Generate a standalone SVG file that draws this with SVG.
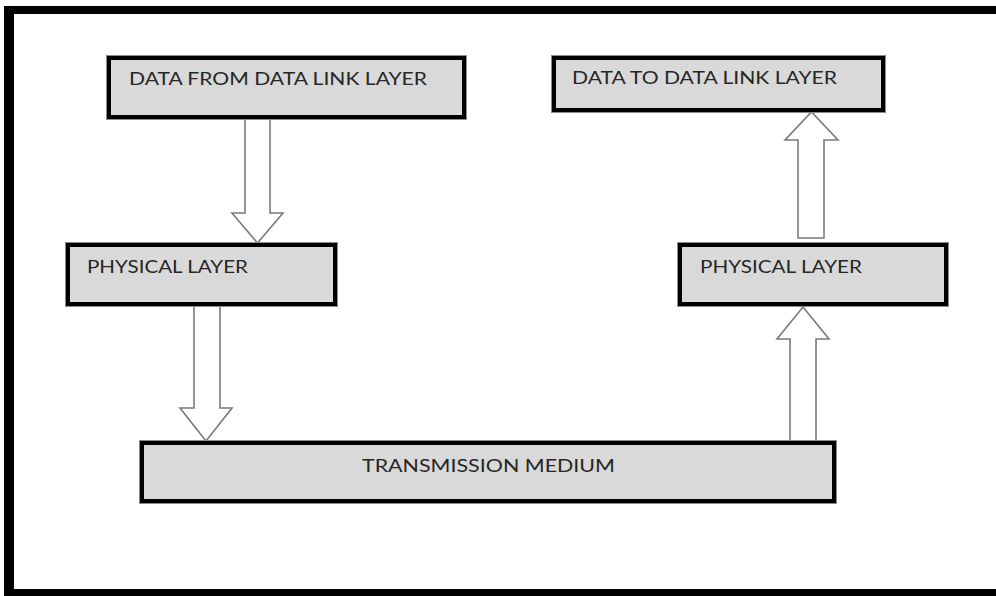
<svg xmlns="http://www.w3.org/2000/svg" width="996" height="596" viewBox="0 0 996 596">
<style>
.frame{fill:#000}
.box{fill:#d9d9d9;stroke:#000;stroke-width:4}
.boxo{fill:none;stroke:#8c8c8c;stroke-width:1}
.arr{fill:#fff;stroke:#7a7a7a;stroke-width:1.6;stroke-linejoin:miter}
.lbl{font-family:Lato,"Open Sans","Liberation Sans",sans-serif;font-size:18px;fill:#262626}
</style>
<rect x="0" y="0" width="996" height="596" fill="#fff"/>
<g id="frame">
<rect class="frame" x="4" y="6" width="992" height="8"/>
<rect class="frame" x="4" y="6" width="10" height="590"/>
<rect class="frame" x="4" y="589" width="992" height="7"/>
</g>
<g id="connectors">
<polygon class="arr" points="245,119 270,119 270,213 283,213 257.5,243 232,213 245,213"/>
<polygon class="arr" points="194,306 220,306 220,408 232,408 206,441 180,408 194,408"/>
<polygon class="arr" points="790,442 816,442 816,339 829,339 803,307 777,339 790,339"/>
<polygon class="arr" points="798,238 824,238 824,140 838,140 811.5,112 785,140 798,140"/>
</g>
<g id="node-data-from">
<rect class="box" x="109" y="58" width="355" height="59"/>
<rect class="boxo" x="106.5" y="55.5" width="360" height="64"/>
<text class="lbl" x="129" y="85" textLength="298" lengthAdjust="spacingAndGlyphs">DATA FROM DATA LINK LAYER</text>
</g>
<g id="node-data-to">
<rect class="box" x="554" y="58" width="329" height="52"/>
<rect class="boxo" x="551.5" y="55.5" width="334" height="57"/>
<text class="lbl" x="572" y="84" textLength="265" lengthAdjust="spacingAndGlyphs">DATA TO DATA LINK LAYER</text>
</g>
<g id="node-physical-left">
<rect class="box" x="68" y="245" width="267" height="59"/>
<rect class="boxo" x="65.5" y="242.5" width="272" height="64"/>
<text class="lbl" x="87" y="273" textLength="161" lengthAdjust="spacingAndGlyphs">PHYSICAL LAYER</text>
</g>
<g id="node-physical-right">
<rect class="box" x="680" y="245" width="266" height="59"/>
<rect class="boxo" x="677.5" y="242.5" width="271" height="64"/>
<text class="lbl" x="700" y="273" textLength="162" lengthAdjust="spacingAndGlyphs">PHYSICAL LAYER</text>
</g>
<g id="node-transmission">
<rect class="box" x="142" y="443" width="692" height="58"/>
<rect class="boxo" x="139.5" y="440.5" width="697" height="63"/>
<text class="lbl" x="362" y="472" textLength="253" lengthAdjust="spacingAndGlyphs">TRANSMISSION MEDIUM</text>
</g>
</svg>
